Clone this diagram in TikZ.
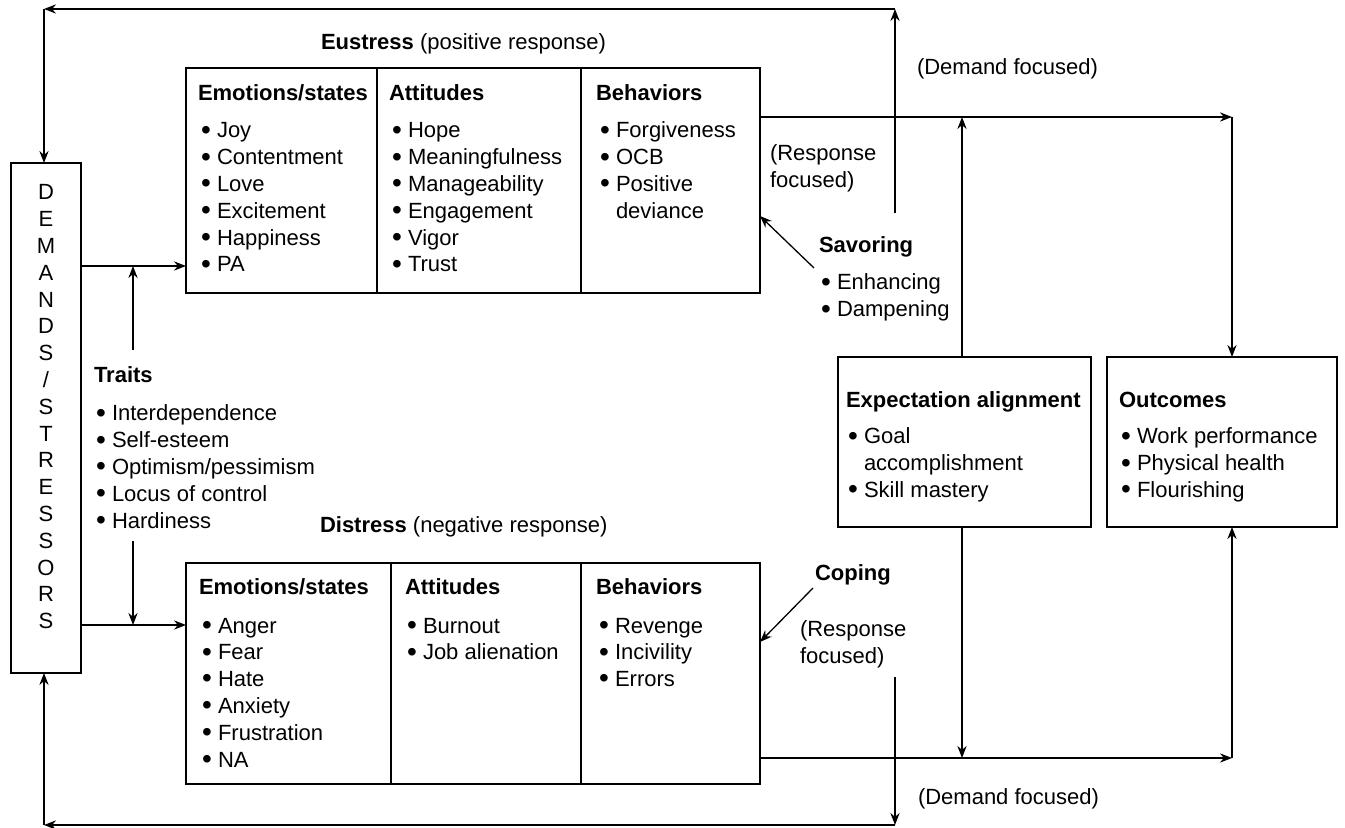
\documentclass[tikz,border=0pt]{standalone}
\usepackage{fontspec}
\setmainfont{Liberation Sans}
\usetikzlibrary{arrows.meta,fit}
\newcommand{\bi}{\makebox[8pt][l]{\raisebox{-0.7pt}{\fontsize{14}{13.4}\selectfont\textbullet}}}
\newcommand{\ci}{\hspace*{8pt}}
\newcommand{\blist}[1]{\begin{tabular}[t]{@{}l@{}}#1\end{tabular}}
\tikzset{
  every node/.style={font=\fontsize{11}{13.4}\selectfont, inner sep=0pt, outer sep=0pt},
  lbl/.style={anchor=base west},
  box/.style={draw, line width=0.8pt, inner sep=0pt},
  arr/.style={line width=0.65pt, -{Stealth[length=6pt,width=4.6pt]}},
}
\begin{document}
\begin{tikzpicture}[x=0.5pt,y=-0.5pt]
\fill[white] (0,0) rectangle (1345,828);
\useasboundingbox (0,0) rectangle (1345,828);

% boxes
\node[box, fit={(11,163)(81,673)}] (dem) {};
\node[box, fit={(186,68)(377,293)}] (eE) {};
\node[box, fit={(377,68)(581,293)}] (eA) {};
\node[box, fit={(581,68)(760,293)}] (eB) {};
\node[box, fit={(186,563)(391,784)}] (dE) {};
\node[box, fit={(391,563)(581,784)}] (dA) {};
\node[box, fit={(581,563)(760,784)}] (dB) {};
\node[box, fit={(838,357)(1091,527)}] (exp) {};
\node[box, fit={(1107,357)(1337,527)}] (out) {};

% DEMANDS text
\node[anchor=base] (demtext) at (46,200) {\begin{tabular}[t]{@{}c@{}}D\\E\\M\\A\\N\\D\\S\\/\\S\\T\\R\\E\\S\\S\\O\\R\\S\end{tabular}};

% titles
\node[lbl] (eustress) at (321,50) {\textbf{Eustress} (positive response)};
\node[lbl] (distress) at (320,533) {\textbf{Distress} (negative response)};

% eustress content
\node[lbl] (eEh) at (198,101) {\textbf{Emotions/states}};
\node[lbl] (eAh) at (389,101) {\textbf{Attitudes}};
\node[lbl] (eBh) at (596,101) {\textbf{Behaviors}};
\node[lbl] (eEl) at (201,138) {\blist{\bi Joy\\ \bi Contentment\\ \bi Love\\ \bi Excitement\\ \bi Happiness\\ \bi PA}};
\node[lbl] (eAl) at (392,138) {\blist{\bi Hope\\ \bi Meaningfulness\\ \bi Manageability\\ \bi Engagement\\ \bi Vigor\\ \bi Trust}};
\node[lbl] (eBl) at (600,138) {\blist{\bi Forgiveness\\ \bi OCB\\ \bi Positive\\ \ci deviance}};

% distress content
\node[lbl] (dEh) at (199,595) {\textbf{Emotions/states}};
\node[lbl] (dAh) at (405,595) {\textbf{Attitudes}};
\node[lbl] (dBh) at (596,595) {\textbf{Behaviors}};
\node[lbl] (dEl) at (202,633) {\blist{\bi Anger\\ \bi Fear\\ \bi Hate\\ \bi Anxiety\\ \bi Frustration\\ \bi NA}};
\node[lbl] (dAl) at (407,633) {\blist{\bi Burnout\\ \bi Job alienation}};
\node[lbl] (dBl) at (599,633) {\blist{\bi Revenge\\ \bi Incivility\\ \bi Errors}};

% traits
\node[lbl] (traitsh) at (94,383) {\textbf{Traits}};
\node[lbl] (traitsl) at (96,421) {\blist{\bi Interdependence\\ \bi Self-esteem\\ \bi Optimism/pessimism\\ \bi Locus of control\\ \bi Hardiness}};

% savoring / coping
\node[lbl] (savh) at (819,253) {\textbf{Savoring}};
\node[lbl] (savl) at (821,290) {\blist{\bi Enhancing\\ \bi Dampening}};
\node[lbl] (coph) at (815,581) {\textbf{Coping}};

% focused labels
\node[lbl] (dft) at (917,75) {(Demand focused)};
\node[lbl] (dfb) at (918,804) {(Demand focused)};
\node[lbl] (rft) at (770,161) {\blist{(Response\\focused)}};
\node[lbl] (rfb) at (800,637) {\blist{(Response\\focused)}};

% expectation / outcomes
\node[lbl] (exph) at (846,408) {\textbf{Expectation alignment}};
\node[lbl] (expl) at (848,444) {\blist{\bi Goal\\ \ci accomplishment\\ \bi Skill mastery}};
\node[lbl] (outh) at (1119,408) {\textbf{Outcomes}};
\node[lbl] (outl) at (1121,444) {\blist{\bi Work performance\\ \bi Physical health\\ \bi Flourishing}};

% helper coordinates
\coordinate (yE) at (0,266);
\coordinate (yD) at (0,625);
\coordinate (yX) at (0,117);
\coordinate (yZ) at (0,758);
\coordinate (xe) at (962,0);
\coordinate (tR) at (895,9);
\coordinate (tL) at (44,9);
\coordinate (rs1) at (895,213);
\coordinate (bR) at (895,825);
\coordinate (bL) at (44,825);
\coordinate (rs2) at (895,677);
\coordinate (tu) at (133,350);
\coordinate (td) at (133,541);
\coordinate (rc) at (1232,117);
\coordinate (rd) at (1232,758);
\coordinate (sv) at (814,268);
\coordinate (cp) at (813,588);

% feedback loops
\draw[arr] (rs1) -- (tR);
\draw[arr] (tR) -- (tL);
\draw[arr] (tL) -- (tL |- dem.north);
\draw[arr] (rs2) -- (bR);
\draw[arr] (bR) -- (bL);
\draw[arr] (bL) -- (bL |- dem.south);

% demands to responses
\draw[arr] (dem.east |- yE) -- (eE.west |- yE);
\draw[arr] (dem.east |- yD) -- (dE.west |- yD);
\draw[arr] (tu) -- (tu |- yE);
\draw[arr] (td) -- (td |- yD);

% to outcomes
\draw[arr] (eB.east |- yX) -- (rc);
\draw[arr] (rc) -- (rc |- out.north);
\draw[arr] (dB.east |- yZ) -- (rd);
\draw[arr] (rd) -- (rd |- out.south);
\draw[arr] (xe |- exp.north) -- (xe |- yX);
\draw[arr] (xe |- exp.south) -- (xe |- yZ);

% savoring / coping
\draw[arr] (sv) -- (eB.east |- 0,216);
\draw[arr] (cp) -- (dB.east |- 0,642);
\end{tikzpicture}
\end{document}
